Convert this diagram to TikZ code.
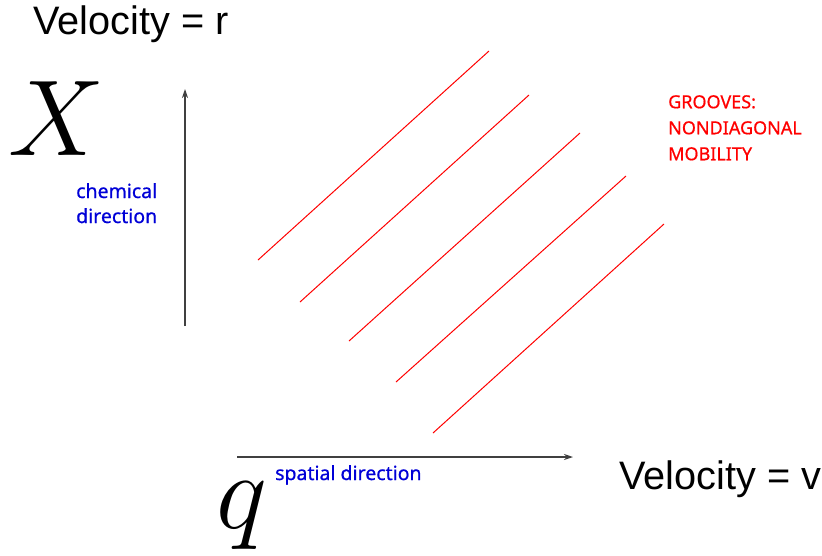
\RequirePackage{fix-cm}
\documentclass[tikz,border=0pt]{standalone}
\usepackage{fontspec}
\setmainfont{Liberation Sans}
\newfontfamily\labelfont[FakeBold=0.7]{Noto Sans}
\usetikzlibrary{arrows.meta}
\definecolor{lblblue}{RGB}{0,0,215}
\tikzset{
  axis/.style={draw=black!75, line width=1.2pt, -{Stealth[length=9pt,width=6pt]}},
  groove/.style={draw=red, line width=1pt},
  bigtxt/.style={font=\fontsize{39.7}{44}\selectfont, inner sep=0pt},
  dirtxt/.style={font=\labelfont\fontsize{19.5}{25}\selectfont, text=lblblue, inner sep=0pt, align=left},
  redtxt/.style={font=\labelfont\fontsize{18}{26}\selectfont, text=red, inner sep=0pt, align=left},
  symb/.style={inner sep=0pt}
}
\begin{document}
\begin{tikzpicture}[x=1pt,y=-1pt]
\useasboundingbox (0,0) rectangle (822,555);
\node[bigtxt, anchor=west] (vr) at (33,24) {Velocity = r};
\node[bigtxt, anchor=west] (vv) at (619,479) {Velocity = v};
\node[symb, anchor=base west] (X) at (8,155) {\fontsize{108}{110}\selectfont$X$};
\node[symb, anchor=base west] (q) at (216,528) {\fontsize{108}{110}\selectfont$q$};
\coordinate (ys) at (185,326);
\coordinate (ye) at (185,89);
\draw[axis] (ys) -- (ye);
\coordinate (xs) at (237,457);
\coordinate (xe) at (573,457);
\draw[axis] (xs) -- (xe);
\node[dirtxt, anchor=north west] (chem) at (76,183) {chemical\\direction};
\node[dirtxt, anchor=north west] (spat) at (275,465) {spatial direction};
\node[redtxt, anchor=north west] (grv) at (668,95) {GROOVES:\\NONDIAGONAL\\MOBILITY};
\coordinate (a1) at (258,260); \coordinate (b1) at (489,51);
\coordinate (a2) at (300,302); \coordinate (b2) at (529,95);
\coordinate (a3) at (349,341); \coordinate (b3) at (580,133);
\coordinate (a4) at (396,382); \coordinate (b4) at (626,176);
\coordinate (a5) at (433,433); \coordinate (b5) at (664,224);
\foreach \i in {1,...,5} {\draw[groove] (a\i) -- (b\i);}
\end{tikzpicture}
\end{document}
